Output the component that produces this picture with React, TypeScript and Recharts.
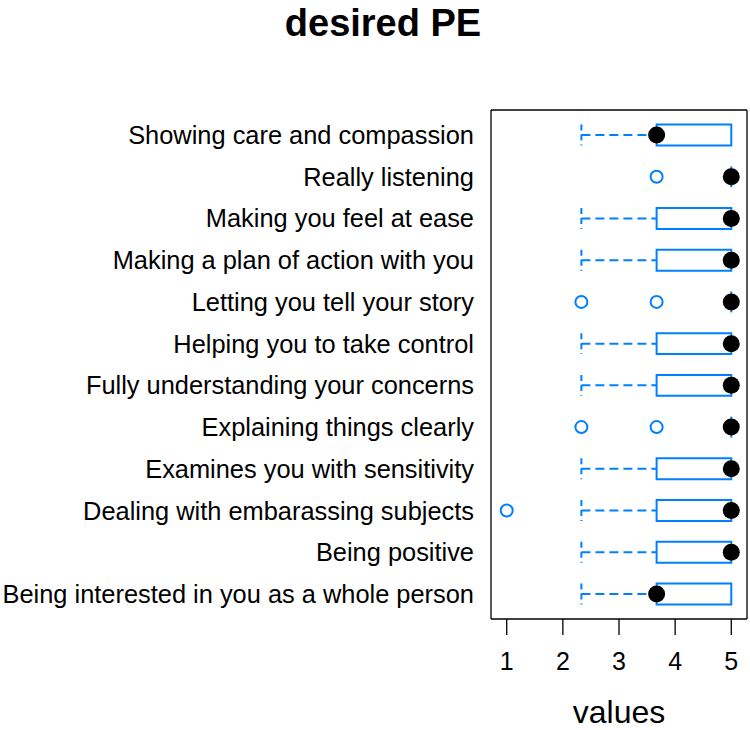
import { ScatterChart, Scatter, XAxis, YAxis, ReferenceArea, ReferenceLine } from "recharts";

// ── data (rows listed top → bottom) ───────────────────────────────────────────

const categories = [
    "Showing care and compassion",
    "Really listening",
    "Making you feel at ease",
    "Making a plan of action with you",
    "Letting you tell your story",
    "Helping you to take control",
    "Fully understanding your concerns",
    "Explaining things clearly",
    "Examines you with sensitivity",
    "Dealing with embarassing subjects",
    "Being positive",
    "Being interested in you as a whole person",
];
const lowerWhisker = [2.33, 5, 2.33, 2.33, 5, 2.33, 2.33, 5, 2.33, 2.33, 2.33, 2.33];
const q1 = [3.67, 5, 3.67, 3.67, 5, 3.67, 3.67, 5, 3.67, 3.67, 3.67, 3.67];
const medians = [3.67, 5, 5, 5, 5, 5, 5, 5, 5, 5, 5, 3.67];
const q3 = [5, 5, 5, 5, 5, 5, 5, 5, 5, 5, 5, 5];
const outliers: number[][] = [[], [3.67], [], [], [2.33, 3.67], [], [], [2.33, 3.67], [], [1], [], []];
const xTicks = [1, 2, 3, 4, 5];

const XMIN = 0.72, XMAX = 5.28;
const BLUE = "#0080ff";
const FONT = "'Liberation Sans', Arial, sans-serif";
const HALF = 0.25;

const n = categories.length;
const yOf = (i: number) => n - i;
const yTicks = categories.map((_, i) => yOf(i));
const medianPts = medians.map((m, i) => ({ x: m, y: yOf(i) }));
const outlierPts = outliers.flatMap((vals, i) => vals.map(v => ({ x: v, y: yOf(i) })));

export default function App() {
    return (
        <div style={{ position: "relative", width: 750, height: 730, fontFamily: FONT, background: "#fff" }}>
            <style>{`body{margin:0}`}</style>
            <div style={{ position: "absolute", top: 3, left: 383, transform: "translateX(-50%)", fontSize: 38, lineHeight: "40px", fontWeight: 700, whiteSpace: "nowrap" }}>
                desired PE
            </div>
            <ScatterChart width={750} height={730} margin={{ top: 60, right: 3, bottom: 0, left: 0 }}>
                <XAxis type="number" dataKey="x" domain={[XMIN, XMAX]} ticks={xTicks} allowDataOverflow
                    height={111} tickSize={16} tickMargin={17}
                    axisLine={{ stroke: "#000", strokeWidth: 1.3 }} tickLine={{ stroke: "#000", strokeWidth: 1.3 }}
                    tick={{ fill: "#000", fontSize: 25, fontFamily: FONT }} />
                <XAxis xAxisId="top" orientation="top" type="number" dataKey="x" domain={[XMIN, XMAX]} ticks={xTicks} allowDataOverflow
                    height={50} tickSize={15} tick={false}
                    axisLine={{ stroke: "#000", strokeWidth: 1.3 }} tickLine={{ stroke: "#000", strokeWidth: 1.3 }} />
                <YAxis type="number" dataKey="y" domain={[0.4, n + 0.6]} ticks={yTicks} allowDataOverflow
                    width={491} tickLine={false} tickSize={6} tickMargin={11}
                    tickFormatter={(v: number) => categories[n - v] ?? ""}
                    axisLine={{ stroke: "#000", strokeWidth: 1.3 }}
                    tick={{ fill: "#000", fontSize: 25.4, fontFamily: FONT }} />
                <ReferenceLine x={XMAX} stroke="#000" strokeWidth={1.3} />

                {categories.map((_, i) => {
                    const y = yOf(i);
                    const dash = "9 5";
                    return [
                        lowerWhisker[i] < q1[i] && (
                            <ReferenceLine key={`w${i}`} segment={[{ x: lowerWhisker[i], y }, { x: q1[i], y }]}
                                stroke={BLUE} strokeWidth={2} strokeDasharray={dash} />
                        ),
                        lowerWhisker[i] < q1[i] && (
                            <ReferenceLine key={`s${i}`} segment={[{ x: lowerWhisker[i], y: y + HALF }, { x: lowerWhisker[i], y: y - HALF }]}
                                stroke={BLUE} strokeWidth={2} strokeDasharray="6 4" />
                        ),
                        q3[i] > q1[i] ? (
                            <ReferenceArea key={`b${i}`} x1={q1[i]} x2={q3[i]} y1={y - HALF} y2={y + HALF}
                                fill="none" stroke={BLUE} strokeWidth={2} />
                        ) : (
                            <ReferenceLine key={`b${i}`} segment={[{ x: q1[i], y: y + HALF }, { x: q1[i], y: y - HALF }]}
                                stroke={BLUE} strokeWidth={2} />
                        ),
                    ];
                })}

                <Scatter data={outlierPts} isAnimationActive={false}
                    shape={(p: any) => <circle cx={p.cx} cy={p.cy} r={6} fill="#fff" stroke={BLUE} strokeWidth={2} />} />
                <Scatter data={medianPts} isAnimationActive={false}
                    shape={(p: any) => <circle cx={p.cx} cy={p.cy} r={8.5} fill="#000" />} />
            </ScatterChart>
            <div style={{ position: "absolute", top: 696, left: 619, transform: "translateX(-50%)", fontSize: 32, lineHeight: "32px", whiteSpace: "nowrap" }}>
                values
            </div>
        </div>
    );
}
